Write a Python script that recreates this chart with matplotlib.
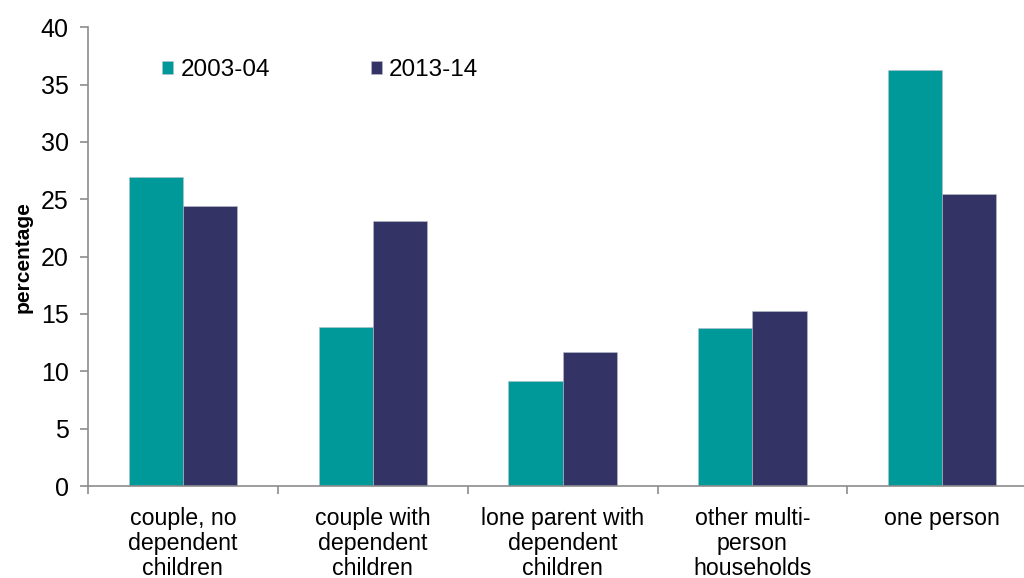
import matplotlib.pyplot as plt
import numpy as np
from matplotlib.ticker import FixedLocator

plt.rcParams["font.family"] = ["Liberation Sans", "DejaVu Sans"]

# household types and share (%) in each survey year
categories = [
    "couple, no\ndependent\nchildren",
    "couple with\ndependent\nchildren",
    "lone parent with\ndependent\nchildren",
    "other multi-\nperson\nhouseholds",
    "one person",
]
share_2003 = [26.9, 13.9, 9.2, 13.8, 36.3]
share_2013 = [24.4, 23.1, 11.7, 15.3, 25.5]
series_labels = ["2003-04", "2013-14"]

TEAL = "#009999"
NAVY = "#333366"
AXIS_GREY = "#8c8c8c"

fig = plt.figure(figsize=(10.24, 5.78), dpi=100)
ax = fig.add_axes([0.0859, 0.159, 0.927, 0.794])

x = np.arange(len(categories))
w = 0.285
ax.bar(x - w / 2, share_2003, w, color=TEAL, label=series_labels[0],
       edgecolor="#b8c0c8", linewidth=0.4)
ax.bar(x + w / 2, share_2013, w, color=NAVY, label=series_labels[1],
       edgecolor="#b8c0c8", linewidth=0.4)

ax.set_xlim(-0.5, len(categories) - 0.5)
ax.set_ylim(0, 40)
ax.set_yticks(range(0, 41, 5))

# category labels centred, tick marks between the groups
ax.set_xticks(x)
ax.set_xticklabels(categories, fontsize=16.7, linespacing=1.1)
ax.xaxis.set_minor_locator(FixedLocator(np.arange(-0.5, len(categories), 1.0)))
ax.tick_params(axis="x", which="major", length=0, pad=15)
ax.tick_params(axis="x", which="minor", length=6, color=AXIS_GREY, width=1.2)
ax.tick_params(axis="y", length=6, color=AXIS_GREY, width=1.2, labelsize=18, pad=8)

for side in ("top", "right"):
    ax.spines[side].set_visible(False)
for side in ("left", "bottom"):
    ax.spines[side].set_color(AXIS_GREY)
    ax.spines[side].set_linewidth(1.2)

ax.set_ylabel("percentage", fontsize=15, fontweight="bold", labelpad=6)

ax.legend(loc="upper left", bbox_to_anchor=(0.055, 0.978), ncol=2, frameon=False,
          fontsize=17.5, handlelength=0.45, handleheight=0.45, handletextpad=0.3,
          columnspacing=4.15)

fig.savefig("out.png", dpi=100)
